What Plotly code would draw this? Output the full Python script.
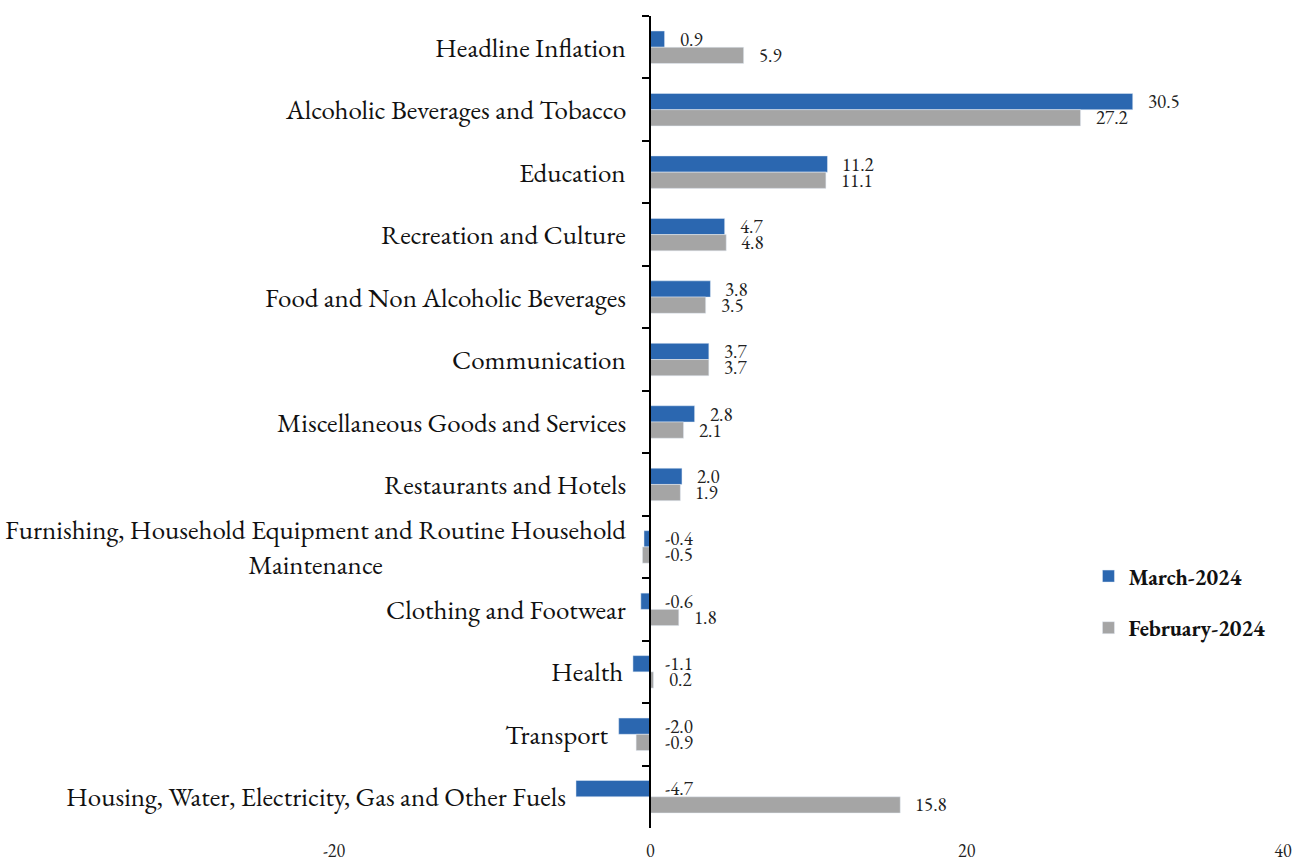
import plotly.graph_objects as go

categories = [
    "Headline Inflation",
    "Alcoholic Beverages and Tobacco",
    "Education",
    "Recreation and Culture",
    "Food and Non Alcoholic Beverages",
    "Communication",
    "Miscellaneous Goods and Services",
    "Restaurants and Hotels",
    "Furnishing, Household Equipment and Routine Household<br>Maintenance",
    "Clothing and Footwear",
    "Health",
    "Transport",
    "Housing, Water, Electricity, Gas and Other Fuels",
]
march_2024 = [0.9, 30.5, 11.2, 4.7, 3.8, 3.7, 2.8, 2.0, -0.4, -0.6, -1.1, -2.0, -4.7]
february_2024 = [5.9, 27.2, 11.1, 4.8, 3.5, 3.7, 2.1, 1.9, -0.5, 1.8, 0.2, -0.9, 15.8]
x_ticks = [-20, 0, 20, 40]

FONT = "EB Garamond, Garamond, Liberation Serif, serif"
BLUE = "#2B67B0"
GRAY = "#A5A5A5"

fig = go.Figure()
fig.add_trace(go.Bar(y=categories, x=march_2024, orientation="h", name="March-2024",
                     marker=dict(color=BLUE), legendgroup="m"))
fig.add_trace(go.Bar(y=categories, x=february_2024, orientation="h", name="February-2024",
                     marker=dict(color=GRAY), legendgroup="f"))

annotations = []
# value labels
for series, shift in ((march_2024, 8), (february_2024, -8)):
    for cat, v in zip(categories, series):
        annotations.append(dict(
            x=max(v, 0), y=cat, xref="x", yref="y", text=f"{v:.1f}",
            showarrow=False, xanchor="left", yanchor="middle",
            xshift=13, yshift=shift,
            font=dict(family=FONT, size=19, color="#222222"),
        ))
# category labels, placed left of the axis or left of any negative bar
for cat, m, f in zip(categories, march_2024, february_2024):
    lowest = min(m, f, 0)
    annotations.append(dict(
        x=min(-1.4, lowest - 0.5), y=cat, xref="x", yref="y",
        text=cat, showarrow=False, xanchor="right", yanchor="middle", align="center",
        font=dict(family=FONT, size=27, color="#111111"),
    ))

fig.update_layout(
    width=1298, height=861,
    margin=dict(l=334, r=15, t=16, b=33, autoexpand=False),
    paper_bgcolor="white", plot_bgcolor="white",
    barmode="group", bargap=0.48, bargroupgap=0,
    font=dict(family=FONT, color="#111111"),
    showlegend=True,
    legend=dict(x=0.795, y=0.278, xanchor="left", yanchor="middle",
                font=dict(family=FONT, size=22, color="#111111", weight="bold"),
                traceorder="grouped", tracegroupgap=20,
                bgcolor="rgba(0,0,0,0)"),
    annotations=annotations,
)
fig.update_xaxes(range=[-20, 40], tickvals=x_ticks, ticktext=[str(t) for t in x_ticks],
                 showgrid=False, zeroline=False, showline=False, ticks="",
                 ticklabelstandoff=10,
                 tickfont=dict(family=FONT, size=18, color="#222222"))
fig.update_yaxes(autorange="reversed", showgrid=False, zeroline=False,
                 showline=True, linecolor="black", linewidth=2,
                 ticks="outside", tickson="boundaries", ticklen=7, tickwidth=2, tickcolor="black",
                 anchor="free", position=(0 - (-20)) / 60,
                 showticklabels=False)

fig.write_html("out.html")
